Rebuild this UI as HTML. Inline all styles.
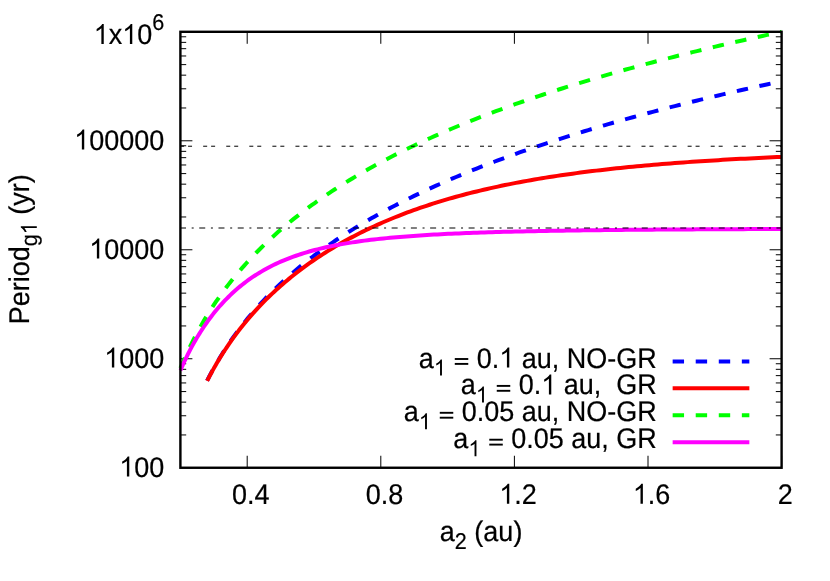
<!DOCTYPE html>
<html><head><meta charset="utf-8"><title>plot</title>
<style>html,body{margin:0;padding:0;background:#fff;}svg{display:block;will-change:transform;}text{font-family:"Liberation Sans",sans-serif;fill:#000;stroke:#000;stroke-width:.2px;text-rendering:geometricPrecision;}.o,.e{fill:none;stroke:none;}</style></head><body>
<svg width="830" height="581" viewBox="0 0 830 581">
<rect width="830" height="581" fill="#fff"/>
<path d="M180.40,467.75 h12 M781.60,467.75 h-12 M180.40,434.94 h5.8 M781.60,434.94 h-5.8 M180.40,415.75 h5.8 M781.60,415.75 h-5.8 M180.40,402.13 h5.8 M781.60,402.13 h-5.8 M180.40,391.57 h5.8 M781.60,391.57 h-5.8 M180.40,382.94 h5.8 M781.60,382.94 h-5.8 M180.40,375.64 h5.8 M781.60,375.64 h-5.8 M180.40,369.32 h5.8 M781.60,369.32 h-5.8 M180.40,363.75 h5.8 M781.60,363.75 h-5.8 M180.40,358.76 h12 M781.60,358.76 h-12 M180.40,325.95 h5.8 M781.60,325.95 h-5.8 M180.40,306.76 h5.8 M781.60,306.76 h-5.8 M180.40,293.15 h5.8 M781.60,293.15 h-5.8 M180.40,282.58 h5.8 M781.60,282.58 h-5.8 M180.40,273.95 h5.8 M781.60,273.95 h-5.8 M180.40,266.66 h5.8 M781.60,266.66 h-5.8 M180.40,260.34 h5.8 M781.60,260.34 h-5.8 M180.40,254.76 h5.8 M781.60,254.76 h-5.8 M180.40,249.78 h12 M781.60,249.78 h-12 M180.40,216.97 h5.8 M781.60,216.97 h-5.8 M180.40,197.77 h5.8 M781.60,197.77 h-5.8 M180.40,184.16 h5.8 M781.60,184.16 h-5.8 M180.40,173.60 h5.8 M781.60,173.60 h-5.8 M180.40,164.97 h5.8 M781.60,164.97 h-5.8 M180.40,157.67 h5.8 M781.60,157.67 h-5.8 M180.40,151.35 h5.8 M781.60,151.35 h-5.8 M180.40,145.77 h5.8 M781.60,145.77 h-5.8 M180.40,140.79 h12 M781.60,140.79 h-12 M180.40,107.98 h5.8 M781.60,107.98 h-5.8 M180.40,88.79 h5.8 M781.60,88.79 h-5.8 M180.40,75.17 h5.8 M781.60,75.17 h-5.8 M180.40,64.61 h5.8 M781.60,64.61 h-5.8 M180.40,55.98 h5.8 M781.60,55.98 h-5.8 M180.40,48.68 h5.8 M781.60,48.68 h-5.8 M180.40,42.36 h5.8 M781.60,42.36 h-5.8 M180.40,36.79 h5.8 M781.60,36.79 h-5.8 M180.40,31.80 h12 M781.60,31.80 h-12 M247.20,467.75 v-12 M247.20,31.80 v12 M380.80,467.75 v-12 M380.80,31.80 v12 M514.40,467.75 v-12 M514.40,31.80 v12 M648.00,467.75 v-12 M648.00,31.80 v12 M781.60,467.75 v-12 M781.60,31.80 v12" stroke="#000" stroke-width="1" fill="none"/>
<clipPath id="c"><rect x="178.40" y="29.80" width="605.20" height="439.95"/></clipPath>
<g clip-path="url(#c)" fill="none" stroke-width="4" stroke-linejoin="round">
<path d="M207.12,380.66 L207.24,380.42 L207.49,379.94 L207.82,379.28 L208.23,378.48 L208.70,377.56 L209.24,376.53 L209.83,375.40 L210.48,374.18 L211.17,372.88 L211.92,371.50 L212.71,370.05 L213.54,368.54 L214.42,366.97 L215.34,365.35 L216.30,363.67 L217.30,361.96 L218.34,360.20 L219.41,358.40 L220.52,356.57 L221.67,354.70 L222.85,352.81 L224.06,350.89 L225.31,348.95 L226.59,346.99 L227.91,345.00 L229.25,343.01 L230.63,340.99 L232.04,338.97 L233.48,336.93 L234.95,334.88 L236.45,332.83 L237.98,330.77 L239.53,328.70 L241.12,326.63 L242.73,324.56 L244.38,322.48 L246.05,320.40 L247.74,318.33 L249.47,316.25 L251.22,314.18 L252.99,312.11 L254.80,310.04 L256.63,307.97 L258.48,305.91 L260.36,303.86 L262.27,301.81 L264.20,299.76 L266.15,297.72 L268.13,295.69 L270.14,293.67 L272.17,291.65 L274.22,289.64 L276.30,287.63 L278.40,285.64 L280.52,283.65 L282.67,281.68 L284.84,279.71 L287.03,277.75 L289.24,275.79 L291.48,273.85 L293.74,271.92 L296.03,269.99 L298.33,268.08 L300.66,266.17 L303.01,264.28 L305.38,262.39 L307.77,260.51 L310.19,258.65 L312.62,256.79 L315.08,254.94 L317.56,253.10 L320.06,251.27 L322.58,249.46 L325.12,247.65 L327.68,245.85 L330.26,244.06 L332.87,242.28 L335.49,240.51 L338.13,238.74 L340.80,236.99 L343.48,235.25 L346.18,233.52 L348.91,231.79 L351.65,230.08 L354.41,228.38 L357.19,226.68 L360.00,224.99 L362.82,223.32 L365.66,221.65 L368.52,219.99 L371.40,218.34 L374.29,216.70 L377.21,215.07 L380.15,213.44 L383.10,211.83 L386.08,210.22 L389.07,208.63 L392.08,207.04 L395.11,205.46 L398.15,203.89 L401.22,202.33 L404.30,200.77 L407.41,199.23 L410.53,197.69 L413.66,196.16 L416.82,194.64 L419.99,193.12 L423.19,191.62 L426.40,190.12 L429.62,188.63 L432.87,187.15 L436.13,185.68 L439.41,184.21 L442.71,182.75 L446.03,181.30 L449.36,179.86 L452.71,178.42 L456.08,176.99 L459.46,175.57 L462.86,174.16 L466.28,172.75 L469.71,171.35 L473.17,169.96 L476.64,168.58 L480.12,167.20 L483.62,165.83 L487.14,164.46 L490.68,163.10 L494.23,161.75 L497.80,160.41 L501.39,159.07 L504.99,157.74 L508.61,156.42 L512.24,155.10 L515.90,153.79 L519.56,152.48 L523.25,151.19 L526.95,149.89 L530.66,148.61 L534.40,147.33 L538.14,146.05 L541.91,144.79 L545.69,143.53 L549.49,142.27 L553.30,141.02 L557.13,139.78 L560.97,138.54 L564.83,137.31 L568.70,136.08 L572.59,134.86 L576.50,133.65 L580.42,132.44 L584.36,131.24 L588.31,130.04 L592.28,128.85 L596.26,127.66 L600.26,126.48 L604.28,125.30 L608.31,124.13 L612.35,122.97 L616.41,121.81 L620.49,120.65 L624.58,119.50 L628.68,118.36 L632.80,117.22 L636.94,116.08 L641.09,114.95 L645.25,113.83 L649.43,112.71 L653.63,111.60 L657.84,110.49 L662.06,109.38 L666.30,108.28 L670.55,107.18 L674.82,106.09 L679.11,105.01 L683.41,103.93 L687.72,102.85 L692.05,101.78 L696.39,100.71 L700.74,99.65 L705.11,98.59 L709.50,97.53 L713.90,96.48 L718.31,95.44 L722.74,94.40 L727.18,93.36 L731.64,92.33 L736.11,91.30 L740.60,90.27 L745.10,89.25 L749.61,88.24 L754.14,87.23 L758.68,86.22 L763.24,85.21 L767.81,84.21 L772.39,83.22 L776.99,82.23 L781.60,81.24" stroke="#0000ff" stroke-dasharray="11.4 11.665"/>
<path d="M207.12,380.92 L207.24,380.68 L207.49,380.20 L207.82,379.55 L208.23,378.76 L208.70,377.84 L209.24,376.82 L209.83,375.69 L210.48,374.48 L211.17,373.19 L211.92,371.82 L212.71,370.38 L213.54,368.88 L214.42,367.33 L215.34,365.72 L216.30,364.06 L217.30,362.35 L218.34,360.61 L219.41,358.83 L220.52,357.02 L221.67,355.17 L222.85,353.30 L224.06,351.41 L225.31,349.49 L226.59,347.55 L227.91,345.60 L229.25,343.63 L230.63,341.64 L232.04,339.65 L233.48,337.64 L234.95,335.63 L236.45,333.61 L237.98,331.59 L239.53,329.56 L241.12,327.53 L242.73,325.50 L244.38,323.47 L246.05,321.45 L247.74,319.42 L249.47,317.40 L251.22,315.38 L252.99,313.36 L254.80,311.35 L256.63,309.35 L258.48,307.36 L260.36,305.37 L262.27,303.39 L264.20,301.42 L266.15,299.46 L268.13,297.51 L270.14,295.56 L272.17,293.63 L274.22,291.71 L276.30,289.80 L278.40,287.90 L280.52,286.02 L282.67,284.15 L284.84,282.28 L287.03,280.44 L289.24,278.60 L291.48,276.78 L293.74,274.97 L296.03,273.17 L298.33,271.39 L300.66,269.62 L303.01,267.87 L305.38,266.13 L307.77,264.41 L310.19,262.69 L312.62,261.00 L315.08,259.32 L317.56,257.65 L320.06,256.00 L322.58,254.36 L325.12,252.74 L327.68,251.13 L330.26,249.54 L332.87,247.97 L335.49,246.40 L338.13,244.86 L340.80,243.33 L343.48,241.82 L346.18,240.32 L348.91,238.83 L351.65,237.37 L354.41,235.91 L357.19,234.48 L360.00,233.06 L362.82,231.65 L365.66,230.26 L368.52,228.89 L371.40,227.53 L374.29,226.19 L377.21,224.87 L380.15,223.56 L383.10,222.26 L386.08,220.99 L389.07,219.72 L392.08,218.48 L395.11,217.25 L398.15,216.03 L401.22,214.83 L404.30,213.65 L407.41,212.48 L410.53,211.32 L413.66,210.19 L416.82,209.07 L419.99,207.96 L423.19,206.87 L426.40,205.79 L429.62,204.73 L432.87,203.69 L436.13,202.66 L439.41,201.64 L442.71,200.64 L446.03,199.65 L449.36,198.68 L452.71,197.73 L456.08,196.79 L459.46,195.86 L462.86,194.95 L466.28,194.05 L469.71,193.16 L473.17,192.29 L476.64,191.44 L480.12,190.59 L483.62,189.77 L487.14,188.95 L490.68,188.15 L494.23,187.36 L497.80,186.59 L501.39,185.82 L504.99,185.08 L508.61,184.34 L512.24,183.62 L515.90,182.91 L519.56,182.21 L523.25,181.52 L526.95,180.85 L530.66,180.18 L534.40,179.53 L538.14,178.90 L541.91,178.27 L545.69,177.65 L549.49,177.05 L553.30,176.46 L557.13,175.87 L560.97,175.30 L564.83,174.74 L568.70,174.19 L572.59,173.65 L576.50,173.12 L580.42,172.60 L584.36,172.09 L588.31,171.59 L592.28,171.10 L596.26,170.62 L600.26,170.15 L604.28,169.69 L608.31,169.23 L612.35,168.79 L616.41,168.35 L620.49,167.92 L624.58,167.50 L628.68,167.09 L632.80,166.69 L636.94,166.30 L641.09,165.91 L645.25,165.53 L649.43,165.16 L653.63,164.79 L657.84,164.44 L662.06,164.09 L666.30,163.74 L670.55,163.41 L674.82,163.08 L679.11,162.76 L683.41,162.44 L687.72,162.13 L692.05,161.83 L696.39,161.53 L700.74,161.24 L705.11,160.95 L709.50,160.67 L713.90,160.40 L718.31,160.13 L722.74,159.87 L727.18,159.61 L731.64,159.36 L736.11,159.11 L740.60,158.87 L745.10,158.63 L749.61,158.40 L754.14,158.17 L758.68,157.95 L763.24,157.73 L767.81,157.52 L772.39,157.31 L776.99,157.10 L781.60,156.90" stroke="#ff0000"/>
<path d="M180.40,368.20 L180.53,367.89 L180.78,367.27 L181.13,366.43 L181.56,365.40 L182.06,364.22 L182.62,362.90 L183.24,361.46 L183.91,359.90 L184.64,358.24 L185.42,356.50 L186.25,354.67 L187.12,352.76 L188.04,350.79 L189.00,348.75 L190.01,346.67 L191.05,344.53 L192.14,342.34 L193.26,340.12 L194.42,337.85 L195.62,335.56 L196.86,333.24 L198.13,330.89 L199.44,328.52 L200.78,326.14 L202.15,323.73 L203.56,321.31 L205.01,318.89 L206.48,316.45 L207.99,314.00 L209.52,311.55 L211.09,309.10 L212.69,306.64 L214.32,304.18 L215.98,301.73 L217.67,299.27 L219.39,296.82 L221.14,294.37 L222.91,291.93 L224.72,289.49 L226.55,287.06 L228.41,284.63 L230.29,282.22 L232.21,279.81 L234.15,277.41 L236.12,275.02 L238.11,272.64 L240.13,270.28 L242.18,267.92 L244.25,265.57 L246.35,263.24 L248.47,260.91 L250.62,258.60 L252.79,256.30 L254.99,254.01 L257.21,251.74 L259.46,249.48 L261.73,247.23 L264.03,244.99 L266.34,242.77 L268.69,240.56 L271.05,238.36 L273.44,236.17 L275.86,234.00 L278.29,231.85 L280.75,229.70 L283.23,227.57 L285.74,225.45 L288.26,223.35 L290.81,221.25 L293.38,219.17 L295.98,217.11 L298.59,215.06 L301.23,213.02 L303.89,210.99 L306.57,208.97 L309.27,206.97 L311.99,204.98 L314.74,203.01 L317.51,201.04 L320.29,199.09 L323.10,197.15 L325.93,195.23 L328.78,193.31 L331.65,191.41 L334.54,189.52 L337.45,187.64 L340.39,185.78 L343.34,183.92 L346.31,182.08 L349.30,180.25 L352.32,178.43 L355.35,176.62 L358.40,174.83 L361.48,173.04 L364.57,171.27 L367.68,169.51 L370.81,167.75 L373.96,166.01 L377.13,164.28 L380.32,162.56 L383.53,160.85 L386.75,159.16 L390.00,157.47 L393.27,155.79 L396.55,154.12 L399.85,152.46 L403.18,150.82 L406.52,149.18 L409.88,147.55 L413.25,145.93 L416.65,144.32 L420.06,142.72 L423.50,141.13 L426.95,139.55 L430.42,137.98 L433.91,136.42 L437.41,134.87 L440.93,133.33 L444.48,131.79 L448.04,130.27 L451.61,128.75 L455.21,127.24 L458.82,125.74 L462.45,124.25 L466.10,122.77 L469.77,121.29 L473.45,119.83 L477.15,118.37 L480.87,116.92 L484.60,115.48 L488.36,114.04 L492.13,112.62 L495.91,111.20 L499.72,109.79 L503.54,108.39 L507.38,106.99 L511.23,105.60 L515.10,104.22 L518.99,102.85 L522.90,101.49 L526.82,100.13 L530.76,98.78 L534.72,97.43 L538.69,96.10 L542.68,94.77 L546.68,93.45 L550.71,92.13 L554.75,90.82 L558.80,89.52 L562.87,88.22 L566.96,86.93 L571.06,85.65 L575.18,84.38 L579.32,83.11 L583.47,81.84 L587.64,80.59 L591.83,79.34 L596.03,78.09 L600.25,76.85 L604.48,75.62 L608.73,74.40 L612.99,73.18 L617.27,71.96 L621.57,70.75 L625.88,69.55 L630.21,68.35 L634.55,67.16 L638.91,65.98 L643.28,64.80 L647.67,63.63 L652.08,62.46 L656.50,61.29 L660.94,60.14 L665.39,58.98 L669.86,57.84 L674.34,56.70 L678.84,55.56 L683.35,54.43 L687.88,53.30 L692.42,52.18 L696.98,51.07 L701.56,49.96 L706.15,48.85 L710.75,47.75 L715.37,46.66 L720.00,45.57 L724.65,44.48 L729.32,43.40 L734.00,42.32 L738.69,41.25 L743.40,40.19 L748.12,39.12 L752.86,38.07 L757.61,37.01 L762.38,35.96 L767.16,34.92 L771.96,33.88 L776.77,32.85 L781.60,31.81" stroke="#00ff00" stroke-dasharray="11.4 11.665"/>
<path d="M180.40,370.34 L180.53,370.04 L180.78,369.45 L181.13,368.65 L181.56,367.68 L182.06,366.56 L182.62,365.31 L183.24,363.94 L183.91,362.47 L184.64,360.91 L185.42,359.27 L186.25,357.56 L187.12,355.78 L188.04,353.94 L189.00,352.05 L190.01,350.11 L191.05,348.14 L192.14,346.13 L193.26,344.09 L194.42,342.02 L195.62,339.94 L196.86,337.84 L198.13,335.73 L199.44,333.61 L200.78,331.49 L202.15,329.36 L203.56,327.24 L205.01,325.11 L206.48,323.00 L207.99,320.89 L209.52,318.80 L211.09,316.71 L212.69,314.64 L214.32,312.59 L215.98,310.56 L217.67,308.55 L219.39,306.56 L221.14,304.59 L222.91,302.64 L224.72,300.72 L226.55,298.83 L228.41,296.97 L230.29,295.13 L232.21,293.32 L234.15,291.54 L236.12,289.80 L238.11,288.08 L240.13,286.39 L242.18,284.74 L244.25,283.12 L246.35,281.53 L248.47,279.98 L250.62,278.46 L252.79,276.97 L254.99,275.52 L257.21,274.09 L259.46,272.71 L261.73,271.35 L264.03,270.03 L266.34,268.74 L268.69,267.49 L271.05,266.26 L273.44,265.07 L275.86,263.91 L278.29,262.78 L280.75,261.69 L283.23,260.62 L285.74,259.59 L288.26,258.58 L290.81,257.60 L293.38,256.66 L295.98,255.74 L298.59,254.84 L301.23,253.98 L303.89,253.14 L306.57,252.33 L309.27,251.54 L311.99,250.78 L314.74,250.04 L317.51,249.33 L320.29,248.64 L323.10,247.97 L325.93,247.32 L328.78,246.70 L331.65,246.09 L334.54,245.51 L337.45,244.94 L340.39,244.40 L343.34,243.87 L346.31,243.36 L349.30,242.87 L352.32,242.39 L355.35,241.93 L358.40,241.49 L361.48,241.06 L364.57,240.64 L367.68,240.24 L370.81,239.86 L373.96,239.48 L377.13,239.12 L380.32,238.78 L383.53,238.44 L386.75,238.12 L390.00,237.80 L393.27,237.50 L396.55,237.21 L399.85,236.93 L403.18,236.66 L406.52,236.39 L409.88,236.14 L413.25,235.90 L416.65,235.66 L420.06,235.43 L423.50,235.21 L426.95,235.00 L430.42,234.79 L433.91,234.59 L437.41,234.40 L440.93,234.22 L444.48,234.04 L448.04,233.86 L451.61,233.70 L455.21,233.53 L458.82,233.38 L462.45,233.23 L466.10,233.08 L469.77,232.94 L473.45,232.80 L477.15,232.67 L480.87,232.54 L484.60,232.42 L488.36,232.30 L492.13,232.19 L495.91,232.07 L499.72,231.97 L503.54,231.86 L507.38,231.76 L511.23,231.66 L515.10,231.57 L518.99,231.48 L522.90,231.39 L526.82,231.30 L530.76,231.22 L534.72,231.14 L538.69,231.06 L542.68,230.98 L546.68,230.91 L550.71,230.84 L554.75,230.77 L558.80,230.70 L562.87,230.64 L566.96,230.58 L571.06,230.51 L575.18,230.46 L579.32,230.40 L583.47,230.34 L587.64,230.29 L591.83,230.24 L596.03,230.19 L600.25,230.14 L604.48,230.09 L608.73,230.04 L612.99,230.00 L617.27,229.95 L621.57,229.91 L625.88,229.87 L630.21,229.83 L634.55,229.79 L638.91,229.75 L643.28,229.72 L647.67,229.68 L652.08,229.65 L656.50,229.61 L660.94,229.58 L665.39,229.55 L669.86,229.52 L674.34,229.49 L678.84,229.46 L683.35,229.43 L687.88,229.40 L692.42,229.38 L696.98,229.35 L701.56,229.33 L706.15,229.30 L710.75,229.28 L715.37,229.25 L720.00,229.23 L724.65,229.21 L729.32,229.19 L734.00,229.17 L738.69,229.15 L743.40,229.13 L748.12,229.11 L752.86,229.09 L757.61,229.07 L762.38,229.05 L767.16,229.03 L771.96,229.02 L776.77,229.00 L781.60,228.98" stroke="#ff00ff"/>
</g>
<path d="M180.40,146.22 H781.60" stroke="#000" stroke-width="1" fill="none" stroke-dasharray="4 3.95 4 11.12" stroke-dashoffset="0.3"/>
<path d="M180.40,228.00 H781.60" stroke="#000" stroke-width="1" fill="none" stroke-dasharray="6 5.68 2 5.56" stroke-dashoffset="0.4"/>
<rect x="180.40" y="31.80" width="601.20" height="435.95" fill="none" stroke="#000" stroke-width="2.4"/>
<text transform="translate(164.30,43.90) scale(1,1.055)" font-size="27" text-anchor="end" xml:space="preserve"><tspan class="o">1</tspan>x<tspan class="o">1</tspan>0<tspan font-size="21.6" dy="-12.89">6</tspan></text>
<text transform="translate(164.30,149.54) scale(1,1.055)" font-size="27" text-anchor="end" xml:space="preserve"><tspan class="o">1</tspan>00000</text>
<text transform="translate(164.30,258.52) scale(1,1.055)" font-size="27" text-anchor="end" xml:space="preserve"><tspan class="o">1</tspan>0000</text>
<text transform="translate(164.30,367.51) scale(1,1.055)" font-size="27" text-anchor="end" xml:space="preserve"><tspan class="o">1</tspan>000</text>
<text transform="translate(164.30,476.50) scale(1,1.055)" font-size="27" text-anchor="end" xml:space="preserve"><tspan class="o">1</tspan>00</text>
<text transform="translate(250.80,503.70) scale(1,1.055)" font-size="27" text-anchor="middle" xml:space="preserve">0.4</text>
<text transform="translate(384.40,503.70) scale(1,1.055)" font-size="27" text-anchor="middle" xml:space="preserve">0.8</text>
<text transform="translate(518.00,503.70) scale(1,1.055)" font-size="27" text-anchor="middle" xml:space="preserve"><tspan class="o">1</tspan>.2</text>
<text transform="translate(651.60,503.70) scale(1,1.055)" font-size="27" text-anchor="middle" xml:space="preserve"><tspan class="o">1</tspan>.6</text>
<text transform="translate(785.20,503.70) scale(1,1.055)" font-size="27" text-anchor="middle" xml:space="preserve">2</text>
<text transform="translate(481.10,541.20) scale(1,1.055)" font-size="27" text-anchor="middle" xml:space="preserve">a<tspan font-size="21.6" dy="7.58">2</tspan><tspan dy="-7.58"> (au)</tspan></text>
<text transform="translate(28.80,249.30) rotate(-90) scale(1,1.055)" font-size="27" text-anchor="middle" xml:space="preserve">Period<tspan font-size="21.6" dy="7.58">g<tspan class="o">1</tspan></tspan><tspan dy="-7.58"> (yr)</tspan></text>
<text transform="translate(656.80,367.50) scale(1,1.055)" font-size="27" text-anchor="end" xml:space="preserve">a<tspan font-size="21.6" dy="7.58"><tspan class="o">1</tspan></tspan><tspan dy="-7.58"> <tspan class="e">=</tspan> 0.<tspan class="o">1</tspan> au, NO-GR</tspan></text>
<path d="M672.65,361.45 H749.35" stroke="#0000ff" stroke-width="4" fill="none" stroke-dasharray="11.4 11.665"/>
<text transform="translate(656.80,394.40) scale(1,1.055)" font-size="27" text-anchor="end" xml:space="preserve">a<tspan font-size="21.6" dy="7.58"><tspan class="o">1</tspan></tspan><tspan dy="-7.58"> <tspan class="e">=</tspan> 0.<tspan class="o">1</tspan> au,  GR</tspan></text>
<path d="M672.65,388.35 H749.35" stroke="#ff0000" stroke-width="4" fill="none"/>
<text transform="translate(656.80,421.30) scale(1,1.055)" font-size="27" text-anchor="end" xml:space="preserve">a<tspan font-size="21.6" dy="7.58"><tspan class="o">1</tspan></tspan><tspan dy="-7.58"> <tspan class="e">=</tspan> 0.05 au, NO-GR</tspan></text>
<path d="M672.65,415.25 H749.35" stroke="#00ff00" stroke-width="4" fill="none" stroke-dasharray="11.4 11.665"/>
<text transform="translate(656.80,448.20) scale(1,1.055)" font-size="27" text-anchor="end" xml:space="preserve">a<tspan font-size="21.6" dy="7.58"><tspan class="o">1</tspan></tspan><tspan dy="-7.58"> <tspan class="e">=</tspan> 0.05 au, GR</tspan></text>
<path d="M672.65,442.15 H749.35" stroke="#ff00ff" stroke-width="4" fill="none"/>
<g fill="#000">
<path transform="matrix(0.01318,0.00000,0.00000,-0.01358,93.691,43.900)" d="M763 0H583V1147Q518 1085 412.5 1023T223 930V1104Q374 1175 487 1276T647 1472H763Z"/>
<path transform="matrix(0.01318,0.00000,0.00000,-0.01358,122.222,43.900)" d="M763 0H583V1147Q518 1085 412.5 1023T223 930V1104Q374 1175 487 1276T647 1472H763Z"/>
<path transform="matrix(0.01318,0.00000,0.00000,-0.01358,74.175,149.540)" d="M763 0H583V1147Q518 1085 412.5 1023T223 930V1104Q374 1175 487 1276T647 1472H763Z"/>
<path transform="matrix(0.01318,0.00000,0.00000,-0.01358,89.191,258.520)" d="M763 0H583V1147Q518 1085 412.5 1023T223 930V1104Q374 1175 487 1276T647 1472H763Z"/>
<path transform="matrix(0.01318,0.00000,0.00000,-0.01358,104.206,367.510)" d="M763 0H583V1147Q518 1085 412.5 1023T223 930V1104Q374 1175 487 1276T647 1472H763Z"/>
<path transform="matrix(0.01318,0.00000,0.00000,-0.01358,119.222,476.500)" d="M763 0H583V1147Q518 1085 412.5 1023T223 930V1104Q374 1175 487 1276T647 1472H763Z"/>
<path transform="matrix(0.01318,0.00000,0.00000,-0.01358,499.219,503.700)" d="M763 0H583V1147Q518 1085 412.5 1023T223 930V1104Q374 1175 487 1276T647 1472H763Z"/>
<path transform="matrix(0.01318,0.00000,0.00000,-0.01358,632.819,503.700)" d="M763 0H583V1147Q518 1085 412.5 1023T223 930V1104Q374 1175 487 1276T647 1472H763Z"/>
<path transform="matrix(0.00000,-0.01055,-0.01086,0.00000,36.797,234.269)" d="M763 0H583V1147Q518 1085 412.5 1023T223 930V1104Q374 1175 487 1276T647 1472H763Z"/>
<path transform="matrix(0.01055,0.00000,0.00000,-0.01086,433.894,375.497)" d="M763 0H583V1147Q518 1085 412.5 1023T223 930V1104Q374 1175 487 1276T647 1472H763Z"/>
<rect transform="matrix(1.00000,0.00000,0.00000,1.05500,453.425,367.500)" x="1.35" y="-4.313" width="13.50" height="1.801"/>
<rect transform="matrix(1.00000,0.00000,0.00000,1.05500,453.425,367.500)" x="1.35" y="-8.957" width="13.50" height="1.801"/>
<path transform="matrix(0.01318,0.00000,0.00000,-0.01358,499.237,367.500)" d="M763 0H583V1147Q518 1085 412.5 1023T223 930V1104Q374 1175 487 1276T647 1472H763Z"/>
<path transform="matrix(0.01055,0.00000,0.00000,-0.01086,475.878,402.397)" d="M763 0H583V1147Q518 1085 412.5 1023T223 930V1104Q374 1175 487 1276T647 1472H763Z"/>
<rect transform="matrix(1.00000,0.00000,0.00000,1.05500,495.409,394.400)" x="1.35" y="-4.313" width="13.50" height="1.801"/>
<rect transform="matrix(1.00000,0.00000,0.00000,1.05500,495.409,394.400)" x="1.35" y="-8.957" width="13.50" height="1.801"/>
<path transform="matrix(0.01318,0.00000,0.00000,-0.01358,541.222,394.400)" d="M763 0H583V1147Q518 1085 412.5 1023T223 930V1104Q374 1175 487 1276T647 1472H763Z"/>
<path transform="matrix(0.01055,0.00000,0.00000,-0.01086,418.894,429.297)" d="M763 0H583V1147Q518 1085 412.5 1023T223 930V1104Q374 1175 487 1276T647 1472H763Z"/>
<rect transform="matrix(1.00000,0.00000,0.00000,1.05500,438.425,421.300)" x="1.35" y="-4.313" width="13.50" height="1.801"/>
<rect transform="matrix(1.00000,0.00000,0.00000,1.05500,438.425,421.300)" x="1.35" y="-8.957" width="13.50" height="1.801"/>
<path transform="matrix(0.01055,0.00000,0.00000,-0.01086,468.394,456.197)" d="M763 0H583V1147Q518 1085 412.5 1023T223 930V1104Q374 1175 487 1276T647 1472H763Z"/>
<rect transform="matrix(1.00000,0.00000,0.00000,1.05500,487.925,448.200)" x="1.35" y="-4.313" width="13.50" height="1.801"/>
<rect transform="matrix(1.00000,0.00000,0.00000,1.05500,487.925,448.200)" x="1.35" y="-8.957" width="13.50" height="1.801"/>
</g>
</svg></body></html>
